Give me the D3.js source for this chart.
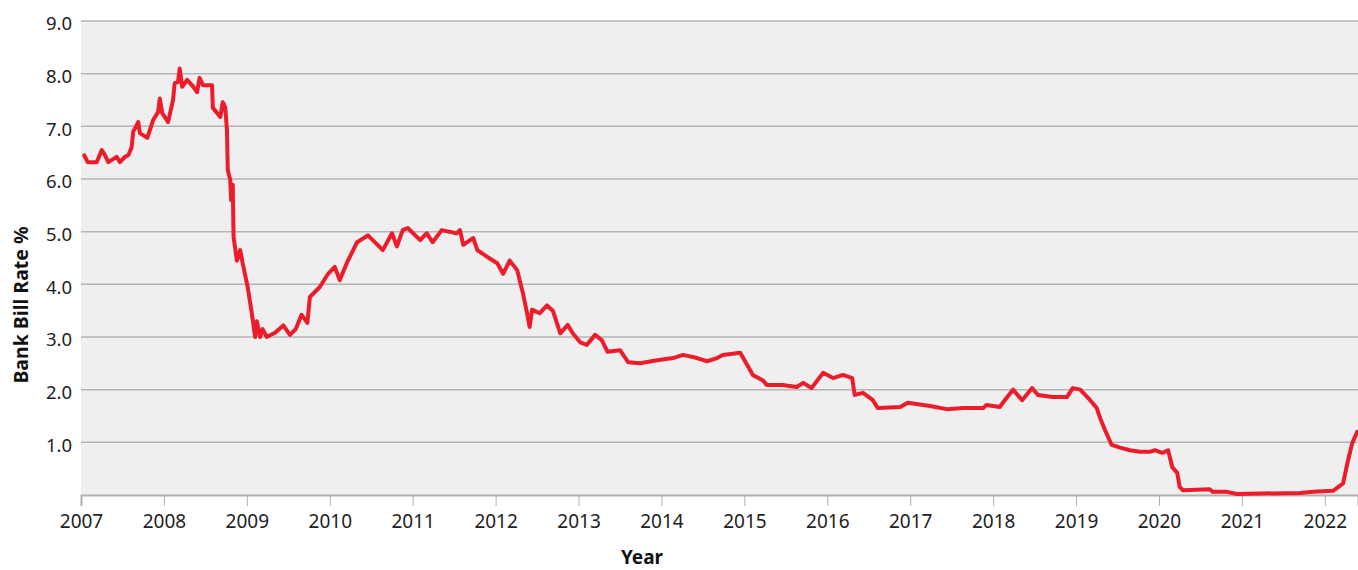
<!DOCTYPE html>
<html>
<head>
<meta charset="utf-8">
<script src="https://cdn.jsdelivr.net/npm/d3@7"></script>
<style>
  body { margin: 0; background: #fff; }
  svg { display: block; font-family: "Noto Sans", "Open Sans", sans-serif; }
</style>
</head>
<body>
<div id="chart"></div>
<script>
// Bank bill rate (decimal year, percent)
const years = [
  2007.04, 2007.08, 2007.19, 2007.25, 2007.29, 2007.33, 2007.43, 2007.47, 2007.53, 2007.57,
  2007.61, 2007.63, 2007.69, 2007.71, 2007.80, 2007.87, 2007.93, 2007.95, 2007.98, 2008.05,
  2008.11, 2008.13, 2008.17, 2008.19, 2008.22, 2008.28, 2008.34, 2008.40, 2008.43, 2008.47,
  2008.58, 2008.59, 2008.68, 2008.71, 2008.74, 2008.76, 2008.77, 2008.80, 2008.81, 2008.83,
  2008.84, 2008.88, 2008.92, 2008.95, 2009.01, 2009.06, 2009.10, 2009.12, 2009.16, 2009.19,
  2009.24, 2009.34, 2009.44, 2009.52, 2009.59, 2009.66, 2009.73, 2009.76, 2009.88, 2009.98,
  2010.06, 2010.12, 2010.21, 2010.33, 2010.46, 2010.64, 2010.75, 2010.81, 2010.88, 2010.94,
  2011.09, 2011.17, 2011.24, 2011.35, 2011.53, 2011.57, 2011.61, 2011.73, 2011.78, 2011.90,
  2012.02, 2012.09, 2012.17, 2012.26, 2012.33, 2012.38, 2012.41, 2012.44, 2012.53, 2012.62,
  2012.69, 2012.78, 2012.87, 2012.93, 2013.02, 2013.10, 2013.20, 2013.28, 2013.35, 2013.50,
  2013.60, 2013.74, 2013.95, 2014.14, 2014.26, 2014.43, 2014.55, 2014.67, 2014.74, 2014.95,
  2015.07, 2015.10, 2015.22, 2015.27, 2015.46, 2015.63, 2015.71, 2015.81, 2015.95, 2016.07,
  2016.19, 2016.30, 2016.33, 2016.43, 2016.55, 2016.61, 2016.88, 2016.97, 2017.24, 2017.44,
  2017.64, 2017.88, 2017.92, 2018.08, 2018.14, 2018.24, 2018.35, 2018.47, 2018.54, 2018.72,
  2018.89, 2018.96, 2019.05, 2019.17, 2019.25, 2019.29, 2019.35, 2019.43, 2019.53, 2019.65,
  2019.77, 2019.89, 2019.95, 2020.04, 2020.11, 2020.16, 2020.22, 2020.25, 2020.29, 2020.61,
  2020.65, 2020.82, 2020.94, 2021.70, 2021.86, 2022.10, 2022.22, 2022.28, 2022.33, 2022.39
];
const rates = [
  6.45, 6.32, 6.32, 6.55, 6.45, 6.32, 6.42, 6.32, 6.42, 6.45,
  6.60, 6.90, 7.08, 6.87, 6.78, 7.12, 7.27, 7.53, 7.25, 7.08,
  7.50, 7.82, 7.84, 8.10, 7.75, 7.88, 7.78, 7.65, 7.92, 7.78,
  7.78, 7.35, 7.18, 7.46, 7.35, 6.93, 6.17, 5.98, 5.60, 5.89,
  4.90, 4.45, 4.65, 4.40, 3.95, 3.45, 3.00, 3.30, 3.00, 3.15,
  3.00, 3.08, 3.22, 3.04, 3.15, 3.42, 3.27, 3.76, 3.95, 4.20,
  4.33, 4.08, 4.42, 4.80, 4.93, 4.65, 4.97, 4.72, 5.03, 5.07,
  4.84, 4.97, 4.80, 5.03, 4.97, 5.03, 4.75, 4.88, 4.65, 4.52,
  4.40, 4.20, 4.45, 4.27, 3.83, 3.45, 3.19, 3.52, 3.45, 3.60,
  3.50, 3.07, 3.23, 3.07, 2.90, 2.85, 3.04, 2.94, 2.72, 2.75,
  2.52, 2.50, 2.56, 2.60, 2.66, 2.60, 2.54, 2.60, 2.66, 2.70,
  2.37, 2.28, 2.18, 2.09, 2.09, 2.05, 2.13, 2.03, 2.32, 2.22,
  2.28, 2.22, 1.90, 1.94, 1.80, 1.65, 1.67, 1.75, 1.69, 1.63,
  1.65, 1.65, 1.71, 1.67, 1.80, 2.00, 1.80, 2.03, 1.90, 1.86,
  1.86, 2.03, 2.00, 1.80, 1.65, 1.46, 1.23, 0.95, 0.90, 0.85,
  0.82, 0.82, 0.85, 0.80, 0.85, 0.53, 0.42, 0.15, 0.09, 0.11,
  0.06, 0.06, 0.02, 0.04, 0.06, 0.08, 0.22, 0.66, 0.98, 1.20
];
const yTicks = [1, 2, 3, 4, 5, 6, 7, 8, 9];
const xTicks = d3.range(2007, 2023);

const width = 1358, height = 570;
const margin = {top: 21, right: 0, bottom: 75, left: 81};

const svg = d3.select("#chart").append("svg")
    .attr("width", width)
    .attr("height", height);

const x = d3.scaleLinear()
    .domain([2007, 2022.4])
    .range([margin.left, width - margin.right]);

const y = d3.scaleLinear()
    .domain([0, 9])
    .range([height - margin.bottom, margin.top]);

// plot background
svg.append("rect")
    .attr("x", margin.left)
    .attr("y", margin.top - 1)
    .attr("width", width - margin.left - margin.right)
    .attr("height", height - margin.bottom - margin.top + 1)
    .attr("fill", "#efefef");

// gridlines
svg.append("g")
  .selectAll("line")
  .data(yTicks)
  .join("line")
    .attr("x1", margin.left)
    .attr("x2", width - margin.right)
    .attr("y1", d => y(d))
    .attr("y2", d => y(d))
    .attr("stroke", "#b5b5b5")
    .attr("stroke-width", 1.5);

// y tick labels (no axis line)
svg.append("g")
  .selectAll("text")
  .data(yTicks)
  .join("text")
    .attr("x", 72)
    .attr("y", d => y(d))
    .attr("dy", "0.5em")
    .attr("text-anchor", "end")
    .attr("font-size", 18.5)
    .attr("fill", "#222")
    .text(d => d3.format(".1f")(d));

// x axis
const xAxis = svg.append("g")
    .attr("transform", `translate(0,${y(0)})`)
    .call(d3.axisBottom(x)
      .tickValues(xTicks)
      .tickFormat(d3.format("d"))
      .tickSize(11)
      .tickPadding(9));

xAxis.select(".domain")
    .attr("stroke", "#b0b0b0")
    .attr("stroke-width", 2);
xAxis.selectAll(".tick line")
    .attr("stroke", "#b0b0b0")
    .attr("stroke-width", 1);
xAxis.selectAll(".tick text")
    .attr("font-size", 19)
    .attr("font-family", "Noto Sans, sans-serif")
    .attr("fill", "#222");

// the series
const series = years.map((yr, i) => [yr, rates[i]]);

svg.append("path")
    .datum(series)
    .attr("fill", "none")
    .attr("stroke", "#ed1c2b")
    .attr("stroke-width", 4)
    .attr("stroke-linejoin", "round")
    .attr("stroke-linecap", "round")
    .attr("d", d3.line().x(d => x(d[0])).y(d => y(d[1])));

// axis titles
svg.append("text")
    .attr("x", 642)
    .attr("y", 564)
    .attr("text-anchor", "middle")
    .attr("font-size", 19)
    .attr("font-weight", "bold")
    .attr("fill", "#111")
    .text("Year");

svg.append("text")
    .attr("transform", "translate(28, 305) rotate(-90)")
    .attr("text-anchor", "middle")
    .attr("font-size", 19.5)
    .attr("font-weight", "bold")
    .attr("fill", "#111")
    .text("Bank Bill Rate %");
</script>
</body>
</html>
